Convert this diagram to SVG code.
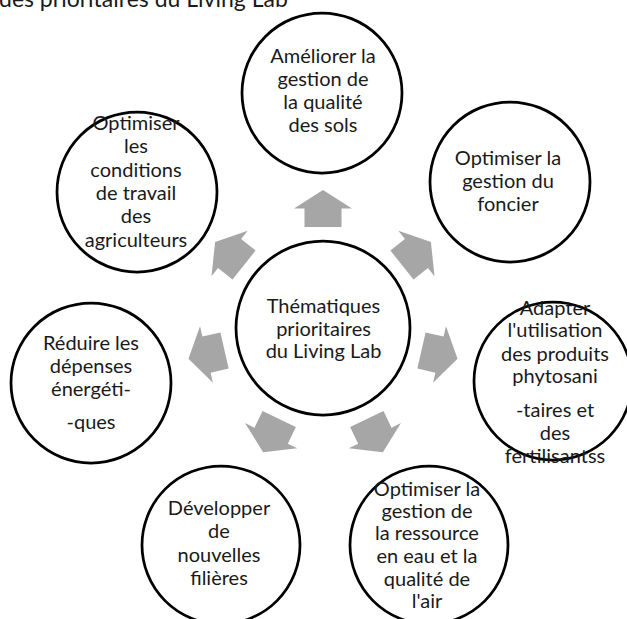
<svg xmlns="http://www.w3.org/2000/svg" xmlns:xlink="http://www.w3.org/1999/xlink" width="627" height="619" viewBox="0 0 627 619">
<style>
  .c { fill: #ffffff; stroke: #000000; stroke-width: 2.75; }
  .t { font-family: Lato, "Liberation Sans", sans-serif; font-size: 20px; fill: #1a1a1a; text-anchor: middle; }
  .title { font-family: Lato, "Liberation Sans", sans-serif; font-size: 23px; fill: #1a1a1a; }
  .a { fill: #a6a6a6; }
</style>
<defs>
  <polygon id="arr" class="a" points="0,-18.5 29,0 18.5,0 18.5,18.5 -18.5,18.5 -18.5,0 -29,0"/>
</defs>
<rect width="627" height="619" fill="#ffffff"/>
<text class="title" x="-1" y="7">des prioritaires du Living Lab</text>
<g id="connectors">
  <use xlink:href="#arr" transform="rotate(0 323 328) translate(323 208.5)"/>
  <use xlink:href="#arr" transform="rotate(51.43 323 328) translate(323 208.5)"/>
  <use xlink:href="#arr" transform="rotate(102.86 323 328) translate(323 208.5)"/>
  <use xlink:href="#arr" transform="rotate(154.29 323 328) translate(323 208.5)"/>
  <use xlink:href="#arr" transform="rotate(205.71 323 328) translate(323 208.5)"/>
  <use xlink:href="#arr" transform="rotate(257.14 323 328) translate(323 208.5)"/>
  <use xlink:href="#arr" transform="rotate(308.57 323 328) translate(323 208.5)"/>
</g>
<g id="center">
  <circle class="c" cx="323" cy="328" r="87"/>
  <text class="t" x="323.5" y="313">Thématiques</text>
  <text class="t" x="323.5" y="336">prioritaires</text>
  <text class="t" x="323.5" y="358">du Living Lab</text>
</g>
<g id="sols">
  <circle class="c" cx="322" cy="93" r="80"/>
  <text class="t" x="323" y="63">Améliorer la</text>
  <text class="t" x="323" y="86">gestion de</text>
  <text class="t" x="323" y="109">la qualité</text>
  <text class="t" x="323" y="132">des sols</text>
</g>
<g id="foncier">
  <circle class="c" cx="510" cy="182" r="80"/>
  <text class="t" x="508" y="165">Optimiser la</text>
  <text class="t" x="508" y="188">gestion du</text>
  <text class="t" x="508" y="211">foncier</text>
</g>
<g id="phyto">
  <circle class="c" cx="553" cy="381" r="79"/>
  <text class="t" x="555" y="315">Adapter</text>
  <text class="t" x="555" y="337">l'utilisation</text>
  <text class="t" x="555" y="361">des produits</text>
  <text class="t" x="555" y="383">phytosani</text>
  <text class="t" x="555" y="417">-taires et</text>
  <text class="t" x="555" y="440">des</text>
  <text class="t" x="555" y="463">fertilisantss</text>
</g>
<g id="eau">
  <circle class="c" cx="429" cy="545" r="79"/>
  <text class="t" x="427" y="496">Optimiser la</text>
  <text class="t" x="427" y="518">gestion de</text>
  <text class="t" x="427" y="540">la ressource</text>
  <text class="t" x="427" y="563">en eau et la</text>
  <text class="t" x="427" y="586">qualité de</text>
  <text class="t" x="427" y="608">l'air</text>
</g>
<g id="filieres">
  <circle class="c" cx="221" cy="545" r="79"/>
  <text class="t" x="219" y="515">Développer</text>
  <text class="t" x="219" y="538">de</text>
  <text class="t" x="219" y="562">nouvelles</text>
  <text class="t" x="219" y="585">filières</text>
</g>
<g id="energie">
  <circle class="c" cx="91" cy="383" r="80"/>
  <text class="t" x="91" y="350">Réduire les</text>
  <text class="t" x="91" y="373">dépenses</text>
  <text class="t" x="91" y="396">énergéti-</text>
  <text class="t" x="91" y="429">-ques</text>
</g>
<g id="travail">
  <circle class="c" cx="137" cy="192" r="80"/>
  <text class="t" x="136" y="130">Optimiser</text>
  <text class="t" x="136" y="153">les</text>
  <text class="t" x="136" y="177">conditions</text>
  <text class="t" x="136" y="200">de travail</text>
  <text class="t" x="136" y="223">des</text>
  <text class="t" x="136" y="247">agriculteurs</text>
</g>
</svg>
